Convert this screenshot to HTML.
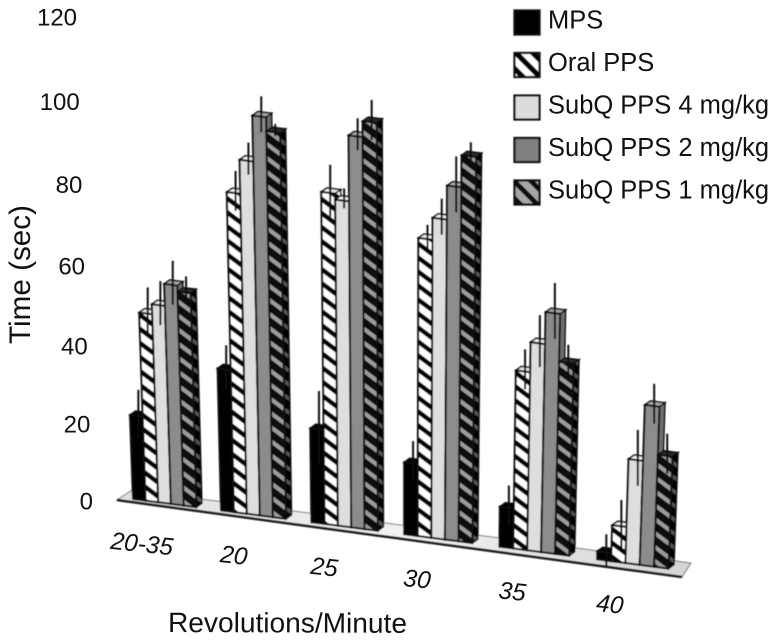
<!DOCTYPE html>
<html>
<head>
<meta charset="utf-8">
<style>
html,body{margin:0;padding:0;background:#fff;width:777px;height:640px;overflow:hidden}
svg{display:block}
text{font-family:"Liberation Sans",sans-serif;fill:#111}
</style>
</head>
<body>
<svg id="chart" width="777" height="640" viewBox="0 0 777 640" xmlns="http://www.w3.org/2000/svg">
<defs>
<pattern id="oralPat" width="18.67" height="14" patternUnits="userSpaceOnUse">
<rect width="18.67" height="14" fill="#fff"/>
<path d="M-4.67,-3.5 L23.33,17.5 M-4.67,10.5 L4.67,17.5 M14,-3.5 L23.33,3.5" stroke="#000" stroke-width="4.6"/>
</pattern>
<pattern id="sub1Pat" width="18.67" height="14" patternUnits="userSpaceOnUse">
<rect width="18.67" height="14" fill="#0a0a0a"/>
<path d="M-4.67,-3.5 L23.33,17.5 M-4.67,10.5 L4.67,17.5 M14,-3.5 L23.33,3.5" stroke="#9c9c9c" stroke-width="4"/>
</pattern>
<pattern id="sub1Side" width="18.67" height="14" patternUnits="userSpaceOnUse">
<rect width="18.67" height="14" fill="#060606"/>
<path d="M-4.67,-3.5 L23.33,17.5 M-4.67,10.5 L4.67,17.5 M14,-3.5 L23.33,3.5" stroke="#555" stroke-width="3.4"/>
</pattern>
<pattern id="oralLegend" width="17" height="17" patternUnits="userSpaceOnUse" patternTransform="translate(514,0)">
<rect width="17" height="17" fill="#fff"/>
<path d="M-4,-4 L21,21 M-4,13 L4,21 M13,-4 L21,4" stroke="#000" stroke-width="5.4"/>
</pattern>
<pattern id="sub1Legend" width="17" height="17" patternUnits="userSpaceOnUse" patternTransform="translate(520,0)">
<rect width="17" height="17" fill="#a6a6a6"/>
<path d="M-4,-4 L21,21 M-4,13 L4,21 M13,-4 L21,4" stroke="#0a0a0a" stroke-width="5"/>
</pattern>
<linearGradient id="floorGrad" x1="0" y1="0" x2="1" y2="0">
<stop offset="0" stop-color="#dedede"/>
<stop offset="0.5" stop-color="#f2f2f2"/>
<stop offset="1" stop-color="#d4d4d4"/>
</linearGradient>
<filter id="soft"><feGaussianBlur stdDeviation="0.55"/></filter>
</defs>
<g id="plot" filter="url(#soft)">
<polygon points="117,500 132,490 691,563 682,577" fill="url(#floorGrad)" stroke="#777" stroke-width="1"/>
<line x1="117" y1="500" x2="682" y2="577" stroke="#1a1a1a" stroke-width="2.6"/>
<g id="bars"></g>
</g>
<g id="yticks"></g>
<g id="xticks"></g>
<text transform="translate(30,344) rotate(-90)" font-size="29.5" textLength="139" lengthAdjust="spacingAndGlyphs">Time (sec)</text>
<text transform="translate(168,632) rotate(0.2)" font-size="28" textLength="239" lengthAdjust="spacingAndGlyphs">Revolutions/Minute</text>
<g id="legend" filter="url(#soft)"></g>
<g id="legendText"></g>
</svg>
<script>
var categories = ["20-35", "20", "25", "30", "35", "40"];
var seriesNames = ["MPS", "Oral PPS", "SubQ PPS 4 mg/kg", "SubQ PPS 2 mg/kg", "SubQ PPS 1 mg/kg"];
var mps = [21, 35.5, 23.5, 18, 10, 2];
var oralPps = [47, 80, 83, 74.5, 44.5, 9];
var subq4 = [49.5, 88.5, 81.5, 80, 52, 26];
var subq2 = [55, 100, 98, 88.5, 60, 40];
var subq1 = [53.5, 96.5, 102, 96.5, 48, 28];
var mpsErr = [6, 5.5, 9, 5, 5, 4];
var oralErr = [6, 5, 6.5, 3, 5, 6];
var subq4Err = [5.5, 4, 2.5, 4.5, 6.5, 7];
var subq2Err = [5.5, 4.5, 4, 7, 7, 5];
var subq1Err = [3.5, 1.5, 5, 3, 4, 5];
var yTicks = [0, 20, 40, 60, 80, 100, 120];

var allValues = [mps, oralPps, subq4, subq2, subq1];
var allErrors = [mpsErr, oralErr, subq4Err, subq2Err, subq1Err];
var NS = "http://www.w3.org/2000/svg";
var styleFront = ["#000", "url(#oralPat)", "#dedede", "#8c8c8c", "url(#sub1Pat)"];
var styleSide = ["#000", "url(#oralPat)", "#c4c4c4", "#6e6e6e", "url(#sub1Side)"];
var styleTop = ["#000", "#e8e8e8", "#efefef", "#a4a4a4", "#2a2a2a"];
var legendFill = ["#000", "url(#oralLegend)", "#dcdcdc", "#808080", "url(#sub1Legend)"];

function groupX(i) { return 133 + 88 * i + 1.2 * i * (i - 1); }
function barWidth(x) { return 12.6 + (x - 133) / 465 * 1.6; }
function heightOf(v) { return v * 4; }
function baseY(x) { return 499 + (x - 133) * 0.13; }
function project(x, h) { return [x + (x - 400) * h / 7500, baseY(x) - h]; }
function tickY(v) { return 501 - v * 3.8 - v * v * 0.00194; }
function tickRight(v) { return 93 - v * 0.133; }
function pts(list) { return list.map(function (p) { return p[0].toFixed(1) + "," + p[1].toFixed(1); }).join(" "); }
function make(tag, attrs, parent) {
  var el = document.createElementNS(NS, tag);
  for (var k in attrs) el.setAttribute(k, attrs[k]);
  parent.appendChild(el);
  return el;
}

var barsG = document.getElementById("bars");
categories.forEach(function (cat, gi) {
  var g = make("g", {}, barsG);
  
  
  var xCursor = groupX(gi);
  allValues.forEach(function (vals, si) {
    var w = barWidth(xCursor);
    var x0 = xCursor, x1 = xCursor + w;
    var h = heightOf(vals[gi]);
    var bl = project(x0, 0), br = project(x1, 0), tl = project(x0, h), tr = project(x1, h);
    var dx = 5.5, dy = -4;
    var shift = function (p) { return [p[0] + dx, p[1] + dy]; };
    var side = make("polygon", { points: pts([br, tr, shift(tr), shift(br)]), fill: styleSide[si], stroke: "#111", "stroke-width": 1.5 }, g);
    
    
    var top = make("polygon", { points: pts([tl, tr, shift(tr), shift(tl)]), fill: styleTop[si], stroke: "#111", "stroke-width": 1.5 }, g);
    
    
    var front = make("polygon", { points: pts([bl, br, tr, tl]), fill: styleFront[si], stroke: "#111", "stroke-width": 2 }, g);
    
    
    var cx = (tl[0] + tr[0]) / 2 + 2;
    var cy = (tl[1] + tr[1]) / 2 - 2;
    var e = heightOf(allErrors[si][gi]);
    var err = make("line", { x1: cx, x2: cx, y1: cy - e, y2: cy + e, stroke: "#111", "stroke-width": 2 }, g);
    
    
    xCursor = x1;
  });
});

var yG = document.getElementById("yticks");
yTicks.forEach(function (t) {
  var el = make("text", { x: tickRight(t), y: tickY(t) + 8.5, "text-anchor": "end", "font-size": 24 }, yG);
  
  
  el.textContent = t;
});

var xG = document.getElementById("xticks");
categories.forEach(function (c, i) {
  var x = groupX(i) + 12 - (i === 0 ? 4 : 0);
  var y = baseY(groupX(i)) + 53;
  var el = make("text", { "text-anchor": "middle", "font-size": 24.5, "font-style": "italic", transform: "translate(" + x + "," + y + ") rotate(6)" }, xG);
  
  
  el.textContent = c;
});

var lG = document.getElementById("legend");
var lT = document.getElementById("legendText");
seriesNames.forEach(function (n, i) {
  var cy = 22.5 + i * 42.5;
  var sw = make("rect", { x: 514.5, y: cy - 12, width: 25, height: 24, fill: legendFill[i], stroke: "#111", "stroke-width": 2.2 }, lG);
  
  
  var tx = make("text", { x: 548, y: cy + 6, "font-size": 25.5 }, lT);
  
  
  tx.textContent = n;
});
</script>
</body>
</html>
